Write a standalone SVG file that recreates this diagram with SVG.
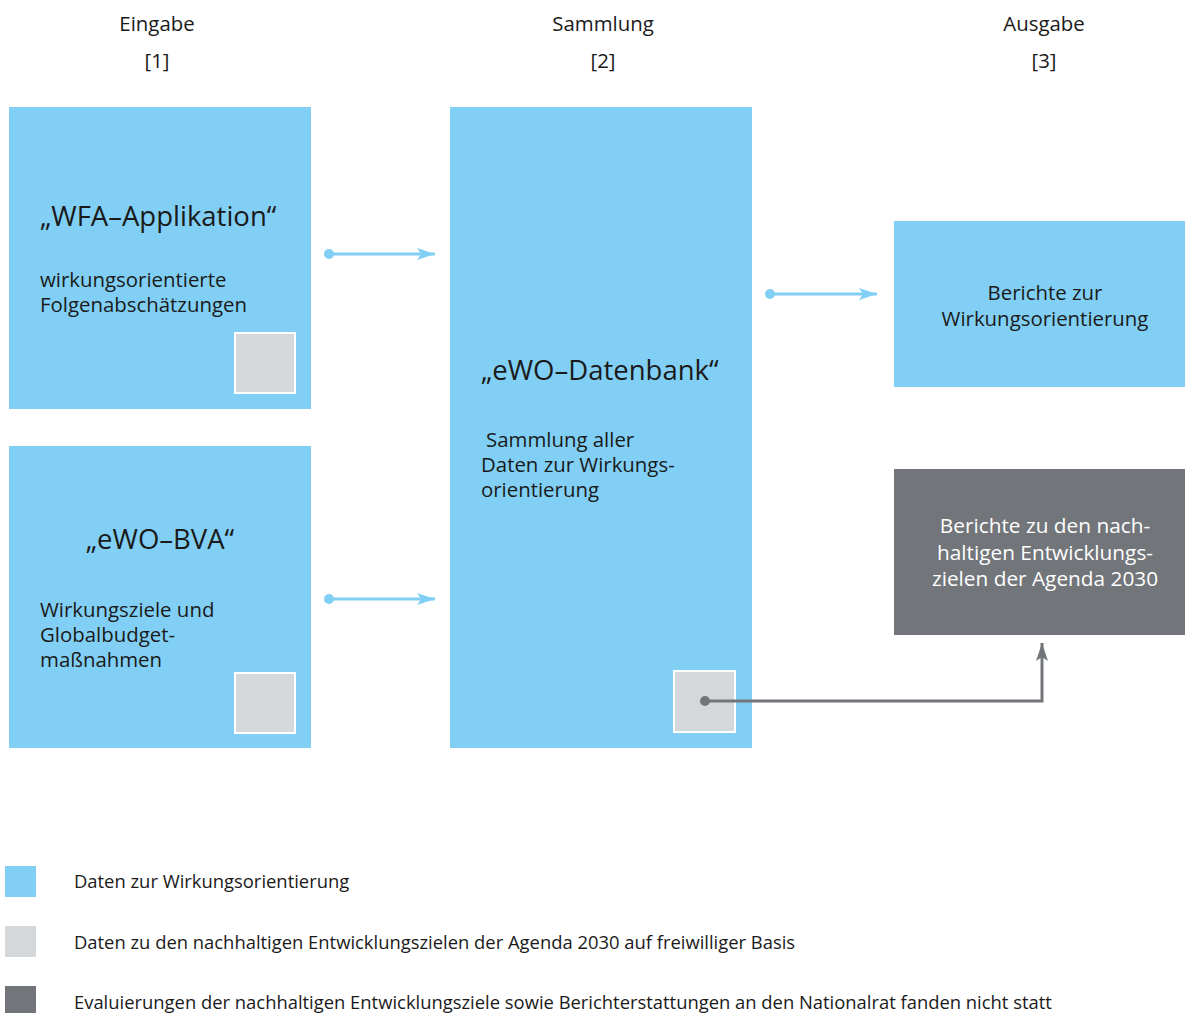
<svg xmlns="http://www.w3.org/2000/svg" width="1185" height="1013" viewBox="0 0 1185 1013">
<defs>
<style>
text{font-family:"Open Sans","Noto Sans","Liberation Sans",sans-serif;fill:#1a1a1a}
.hd{font-size:20.4px;text-anchor:middle}
.blue{fill:#81cff4}
.sq{fill:#d5d8da;stroke:#ffffff;stroke-width:2}
.dark{fill:#72767a}
.title{font-size:27.5px}
.body{font-size:20.4px}
.lg{font-size:18.4px}
.wt{fill:#ffffff;font-size:20.8px}
.mid{text-anchor:middle}
.bc{stroke:#81cff4;stroke-width:3;fill:none}
.gc{stroke:#72767a;stroke-width:3;fill:none}
</style>
<marker id="ab" viewBox="0 0 18 12" refX="18" refY="6" markerWidth="18" markerHeight="12" markerUnits="userSpaceOnUse" orient="auto"><path d="M0,0 L18,6 L0,12 L4,6 Z" fill="#81cff4"/></marker>
<marker id="ag" viewBox="0 0 18 12" refX="18" refY="6" markerWidth="18" markerHeight="12" markerUnits="userSpaceOnUse" orient="auto"><path d="M0,0 L18,6 L0,12 L4,6 Z" fill="#72767a"/></marker>
</defs>
<rect width="1185" height="1013" fill="#ffffff"/>
<g id="headers">
<text class="hd" x="157" y="31">Eingabe</text>
<text class="hd" x="157" y="68">[1]</text>
<text class="hd" x="603" y="31">Sammlung</text>
<text class="hd" x="603" y="68">[2]</text>
<text class="hd" x="1044" y="31">Ausgabe</text>
<text class="hd" x="1044" y="68">[3]</text>
</g>
<g id="wfa">
<rect class="blue" x="9" y="107" width="302" height="302"/>
<text class="title" x="40" y="226">„WFA–Applikation“</text>
<text class="body" x="40" y="287">wirkungsorientierte</text>
<text class="body" x="40" y="312">Folgenabschätzungen</text>
<rect class="sq" x="235" y="333" width="60" height="60"/>
</g>
<g id="bva">
<rect class="blue" x="9" y="446" width="302" height="302"/>
<text class="title mid" x="160" y="549">„eWO–BVA“</text>
<text class="body" x="40" y="617">Wirkungsziele und</text>
<text class="body" x="40" y="642">Globalbudget-</text>
<text class="body" x="40" y="667">maßnahmen</text>
<rect class="sq" x="235" y="673" width="60" height="60"/>
</g>
<g id="datenbank">
<rect class="blue" x="450" y="107" width="302" height="641"/>
<text class="title" x="481" y="380">„eWO–Datenbank“</text>
<text class="body" x="486" y="447">Sammlung aller</text>
<text class="body" x="481" y="472">Daten zur Wirkungs-</text>
<text class="body" x="481" y="497">orientierung</text>
<rect class="sq" x="674" y="671" width="61" height="61"/>
</g>
<g id="berichte-wo">
<rect class="blue" x="894" y="221" width="291" height="166"/>
<text class="body mid" x="1045" y="300">Berichte zur</text>
<text class="body mid" x="1045" y="326">Wirkungsorientierung</text>
</g>
<g id="berichte-agenda">
<rect class="dark" x="894" y="469" width="291" height="166"/>
<text class="body mid wt" x="1045" y="533">Berichte zu den nach-</text>
<text class="body mid wt" x="1045" y="560">haltigen Entwicklungs-</text>
<text class="body mid wt" x="1045" y="586">zielen der Agenda 2030</text>
</g>
<g id="connectors">
<circle cx="329" cy="254" r="5" fill="#81cff4"/>
<line class="bc" x1="329" y1="254" x2="435" y2="254" marker-end="url(#ab)"/>
<circle cx="329" cy="599" r="5" fill="#81cff4"/>
<line class="bc" x1="329" y1="599" x2="435" y2="599" marker-end="url(#ab)"/>
<circle cx="770" cy="294" r="5" fill="#81cff4"/>
<line class="bc" x1="770" y1="294" x2="877" y2="294" marker-end="url(#ab)"/>
<circle cx="705" cy="701" r="5" fill="#72767a"/>
<polyline class="gc" points="705,701 1042,701 1042,643" marker-end="url(#ag)"/>
</g>
<g id="legend">
<rect class="blue" x="5" y="866" width="31" height="31"/>
<text class="lg" x="74" y="888">Daten zur Wirkungsorientierung</text>
<rect fill="#d5d8da" x="5" y="926" width="31" height="31"/>
<text class="lg" x="74" y="949">Daten zu den nachhaltigen Entwicklungszielen der Agenda 2030 auf freiwilliger Basis</text>
<rect class="dark" x="5" y="986" width="31" height="31"/>
<text class="lg" x="74" y="1009">Evaluierungen der nachhaltigen Entwicklungsziele sowie Berichterstattungen an den Nationalrat fanden nicht statt</text>
</g>
</svg>
